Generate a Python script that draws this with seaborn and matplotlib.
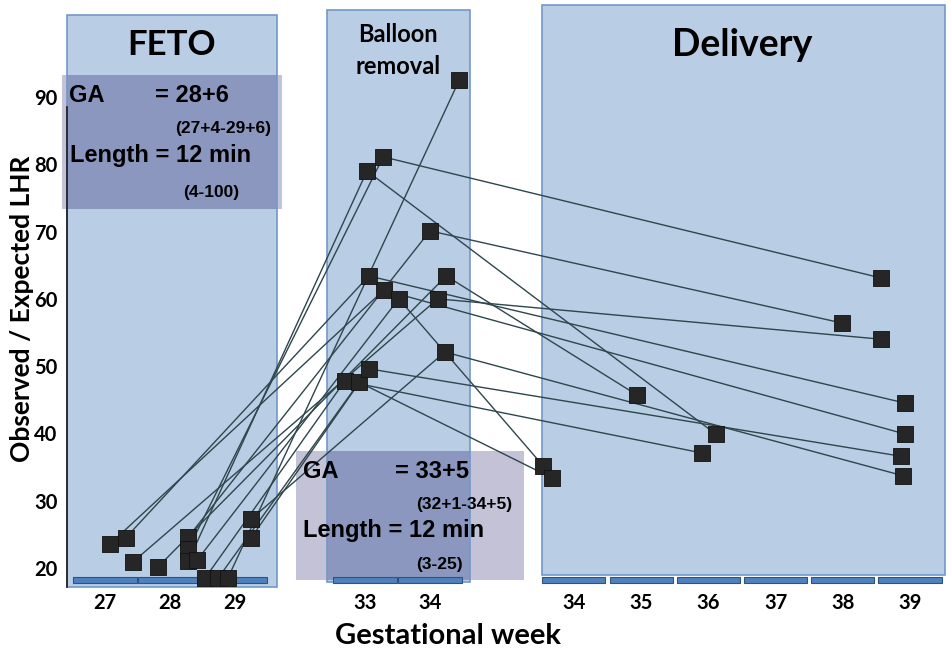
import numpy as np
import pandas as pd
import seaborn as sns
import matplotlib.pyplot as plt
from matplotlib.patches import Rectangle

# observed / expected LHR per patient, same patient order in every list
feto_ga = [27.08, 27.32, 27.43, 27.82, 28.28, 28.28, 28.28, 28.42, 28.54, 28.74, 28.89, 29.25, 29.25]
feto_lhr = [23.6, 24.5, 20.9, 20.2, 24.6, 22.8, 21.0, 21.2, 18.5, 18.5, 18.5, 27.3, 24.5]
balloon_ga = [33.29, 33.06, 34.12, 34.25, 34.0, 33.28, 33.03, 33.52, 32.69, 32.91, 34.45, 34.23, 33.06]
balloon_lhr = [61.3, 63.4, 60.0, 63.4, 70.1, 81.1, 79.0, 60.0, 47.8, 47.6, 92.5, 52.1, 49.6]
delivery_ga = [38.93, 38.93, 38.57, 34.94, 37.99, 38.57, 36.11, 33.54, 35.90, 33.67, np.nan, 38.90, 38.87]
delivery_lhr = [39.9, 44.5, 54.0, 45.7, 56.4, 63.1, 39.9, 35.2, 37.1, 33.4, np.nan, 33.7, 36.6]

feto_weeks = [27, 28, 29]
balloon_weeks = [33, 34]
delivery_weeks = [34, 35, 36, 37, 38, 39]

y_ticks = [20, 30, 40, 50, 60, 70, 80, 90]


# broken x axis: each phase gets its own stretch of the axis
def feto_pos(ga):
    return np.asarray(ga, dtype=float)


def balloon_pos(ga):
    return np.asarray(ga, dtype=float) - 2


def delivery_pos(ga):
    return 34.215 + (np.asarray(ga, dtype=float) - 34) * 1.034


rows = []
for phase, ga, lhr, fn in [('FETO', feto_ga, feto_lhr, feto_pos),
                           ('Balloon', balloon_ga, balloon_lhr, balloon_pos),
                           ('Delivery', delivery_ga, delivery_lhr, delivery_pos)]:
    for i, (g, v) in enumerate(zip(ga, lhr)):
        if np.isnan(g):
            continue
        rows.append({'patient': i, 'phase': phase, 'pos': float(fn(g)), 'lhr': v})
df = pd.DataFrame(rows)

sns.set_style('white')
plt.rcParams['font.family'] = ['Lato', 'DejaVu Sans']
for k in ['text.color', 'axes.labelcolor', 'xtick.color', 'ytick.color']:
    plt.rcParams[k] = 'black'

W, H = 951, 652
fig = plt.figure(figsize=(W / 100, H / 100), dpi=100)
ax = fig.add_axes([67 / W, 1 - 590 / H, (948 - 67) / W, 590 / H])
ax.set_xlim(26.415, 39.97)
ax.set_ylim(16.73, 104.41)

panel_fill = '#B9CDE5'
panel_edge = '#7397C8'
# phase panels (GA extent in that phase's own scale, LHR bottom/top)
for fn, g0, g1, y0, y1 in [(feto_pos, 26.42, 29.65, 17.18, 102.2),
                           (balloon_pos, 32.42, 34.62, 17.92, 102.9),
                           (delivery_pos, 33.52, 39.52, 18.96, 103.67)]:
    x0, x1 = float(fn(g0)), float(fn(g1))
    ax.add_patch(Rectangle((x0, y0), x1 - x0, y1 - y0, facecolor=panel_fill,
                           edgecolor='none', zorder=0.5, clip_on=False))
    ax.add_patch(Rectangle((x0, y0), x1 - x0, y1 - y0, facecolor='none',
                           edgecolor=panel_edge, lw=1.2, zorder=2.6, clip_on=False))


def fig_rect(x0, y0, x1, y1, color, z):
    ax.add_patch(Rectangle((x0 / W, 1 - y1 / H), (x1 - x0) / W, (y1 - y0) / H,
                           transform=fig.transFigure, facecolor=color,
                           edgecolor='none', zorder=z, clip_on=False))


# summary boxes (lavender, darker where they overlap a panel)
fig_rect(62, 75, 282, 209, '#C4C2D6', 2)
fig_rect(67, 75, 277, 209, '#8B97BF', 2.1)
fig_rect(296, 451, 524, 580, '#C4C2D6', 2)
fig_rect(327, 451, 470, 580, '#8B97BF', 2.1)

# week bars along the bottom
tick_pos = list(feto_pos(feto_weeks)) + list(balloon_pos(balloon_weeks)) + list(delivery_pos(delivery_weeks))
tick_lab = [str(w) for w in feto_weeks + balloon_weeks + delivery_weeks]
ax.bar(tick_pos, 0.89, bottom=17.77, width=0.97, color='#4F81BD',
       edgecolor='#2F5283', linewidth=0.8, zorder=3)

sns.lineplot(data=df, x='pos', y='lhr', units='patient', estimator=None,
             color='#2E464C', linewidth=1.0, ax=ax, zorder=4, legend=False)
sns.scatterplot(data=df, x='pos', y='lhr', marker='s', s=145, color='#262626',
                edgecolor='#111111', linewidth=0.6, ax=ax, zorder=5, legend=False)

ax.set_xticks(tick_pos, tick_lab)
ax.set_yticks(y_ticks, [str(t) for t in y_ticks])
ax.tick_params(axis='x', length=0, pad=2, labelsize=14.5)
ax.tick_params(axis='y', length=3, width=1.5, color=panel_edge, pad=4, labelsize=14.5)
for lab in ax.get_xticklabels() + ax.get_yticklabels():
    lab.set_fontweight('bold')

for s in ['top', 'right', 'bottom']:
    ax.spines[s].set_visible(False)
ax.spines['left'].set_bounds(17.2, 88.5)
ax.spines['left'].set_color('#1a1a1a')
ax.spines['left'].set_linewidth(1.2)
ax.spines['left'].set_zorder(2.7)

ax.set_xlabel('Gestational week', fontsize=21, fontweight='bold')
ax.xaxis.set_label_coords((448 - 67) / 881, (590 - 636) / 590)
ax.xaxis.label.set_va('center')
ax.set_ylabel('Observed / Expected LHR', fontsize=19, fontweight='bold')
ax.yaxis.set_label_coords((22 - 67) / 881, (590 - 309) / 590)
ax.yaxis.label.set_va('center')


def ptext(x, y, s, size, ha='left', family='Lato'):
    fig.text(x / W, 1 - y / H, s, ha=ha, va='center', fontsize=size, color='black',
             fontweight='bold', family=[family, 'DejaVu Sans'], zorder=6)


ptext(172, 45, 'FETO', 25, ha='center')
ptext(398, 34, 'Balloon', 17, ha='center')
ptext(398, 66, 'removal', 17, ha='center')
ptext(742, 45, 'Delivery', 27, ha='center')

arial = 'Liberation Sans'
ptext(69, 96, 'GA', 17, family=arial)
ptext(155, 96, '= 28+6', 17, family=arial)
ptext(175, 128, '(27+4-29+6)', 12.5, family=arial)
ptext(70, 156, 'Length = 12 min', 17, family=arial)
ptext(183, 193, '(4-100)', 12.5, family=arial)

ptext(303, 472, 'GA', 17, family=arial)
ptext(395, 472, '= 33+5', 17, family=arial)
ptext(416, 505, '(32+1-34+5)', 12.5, family=arial)
ptext(303, 531, 'Length = 12 min', 17, family=arial)
ptext(416, 565, '(3-25)', 12.5, family=arial)

fig.savefig('out.png', dpi=100)
